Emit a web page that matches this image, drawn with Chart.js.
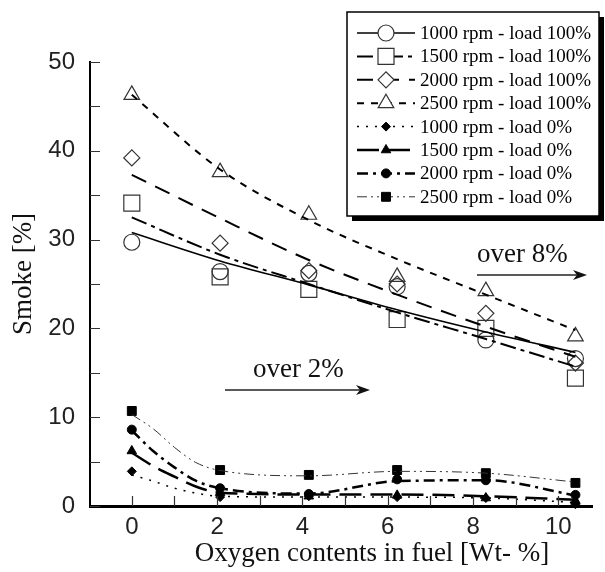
<!DOCTYPE html>
<html>
<head>
<meta charset="utf-8">
<script src="https://cdn.jsdelivr.net/npm/chart.js@4.4.0/dist/chart.umd.min.js"></script>
<style>
  html, body { margin: 0; padding: 0; background: #fff; }
  #wrap { width: 605px; height: 572px; }
</style>
</head>
<body>
<div id="wrap"><canvas id="smokeChart" width="605" height="572"></canvas></div>
<script>
// oxygen content of the blended fuel [wt-%]
var oxygen = [0, 2.07, 4.15, 6.22, 8.3, 10.4];

// measured smoke, full load
var smoke1000Full = [29.7, 26.4, 26.2, 24.7, 18.7, 16.6];
var smoke1500Full = [34.1, 25.8, 24.4, 21.0, 20.0, 14.4];
var smoke2000Full = [39.2, 29.6, 26.5, 25.0, 21.7, 16.1];
var smoke2500Full = [46.3, 37.6, 32.8, 25.8, 24.2, 19.1];

// measured smoke, no load
var smoke1000Zero = [3.9, 1.0, 1.1, 1.0, 0.9, 0.2];
var smoke1500Zero = [6.2, 1.5, 1.1, 1.2, 0.9, 0.6];
var smoke2000Zero = [8.6, 2.0, 1.35, 3.0, 2.9, 1.25];
var smoke2500Zero = [10.7, 4.05, 3.5, 4.05, 3.7, 2.6];

// trend curves, full load
var fit1000Full = [30.8, 27.6, 24.9, 22.1, 19.6, 17.3];
var fit1500Full = [32.5, 28.3, 25.0, 21.8, 18.8, 15.7];
var fit2000Full = [37.3, 32.4, 27.7, 23.8, 20.2, 16.8];
var fit2500Full = [46.3, 37.9, 32.2, 27.8, 23.8, 19.8];

// trend curves, no load (steep drop below 2 %, so read more finely there)
var fitOxygenZero = [0, 0.5, 1.0, 1.5, 2.07, 4.15, 6.22, 8.3, 10.4];
var fit1000Zero = [3.5, 2.8, 2.0, 1.45, 1.1, 1.0, 1.0, 0.9, 0.4];
var fit1500Zero = [6.0, 4.5, 3.3, 2.2, 1.5, 1.3, 1.3, 1.1, 0.7];
var fit2000Zero = [8.5, 6.2, 4.35, 2.85, 2.0, 1.4, 2.8, 2.9, 1.2];
var fit2500Zero = [10.3, 8.7, 6.6, 4.9, 4.0, 3.4, 3.9, 3.7, 2.7];

var xTickLabels = [0, 2, 4, 6, 8, 10];
var yTickLabels = [0, 10, 20, 30, 40, 50];

function pts(xs, ys) {
  return xs.map(function (x, i) { return { x: x, y: ys[i] }; });
}

var series = [
  { label: '1000 rpm - load 100%', xs: oxygen, ys: smoke1000Full, fxs: oxygen, fys: fit1000Full,
    shape: 'circle', r: 8, filled: false, dash: [], lw: 1.6, color: '#000' },
  { label: '1500 rpm - load 100%', xs: oxygen, ys: smoke1500Full, fxs: oxygen, fys: fit1500Full,
    shape: 'rect', r: 11.3, filled: false, dash: [16, 5, 4, 5], lw: 2, color: '#000' },
  { label: '2000 rpm - load 100%', xs: oxygen, ys: smoke2000Full, fxs: oxygen, fys: fit2000Full,
    shape: 'rectRot', r: 8, filled: false, dash: [16, 10], lw: 2, color: '#000' },
  { label: '2500 rpm - load 100%', xs: oxygen, ys: smoke2500Full, fxs: oxygen, fys: fit2500Full,
    shape: 'triangle', r: 9, filled: false, dash: [7, 7], lw: 2, color: '#000' },
  { label: '1000 rpm - load 0%', xs: oxygen, ys: smoke1000Zero, fxs: fitOxygenZero, fys: fit1000Zero,
    shape: 'rectRot', r: 4.5, filled: true, dash: [2, 7], lw: 1.5, color: '#000' },
  { label: '1500 rpm - load 0%', xs: oxygen, ys: smoke1500Zero, fxs: fitOxygenZero, fys: fit1500Zero,
    shape: 'triangle', r: 5.5, filled: true, dash: [22, 9], lw: 2.5, color: '#000' },
  { label: '2000 rpm - load 0%', xs: oxygen, ys: smoke2000Zero, fxs: fitOxygenZero, fys: fit2000Zero,
    shape: 'circle', r: 4.5, filled: true, dash: [11, 5, 3, 5], lw: 2.5, color: '#000' },
  { label: '2500 rpm - load 0%', xs: oxygen, ys: smoke2500Zero, fxs: fitOxygenZero, fys: fit2500Zero,
    shape: 'rect', r: 6.3, filled: true, dash: [10, 4, 2, 4, 2, 4], lw: 1, color: '#333' }
];

var datasets = [];
series.forEach(function (s) {
  datasets.push({
    label: s.label + ' trend',
    data: pts(s.fxs, s.fys),
    showLine: true,
    fill: false,
    pointRadius: 0,
    pointHoverRadius: 0,
    borderColor: s.color,
    borderWidth: s.lw,
    borderDash: s.dash,
    cubicInterpolationMode: 'monotone',
    clip: 12
  });
});
series.forEach(function (s) {
  datasets.push({
    label: s.label,
    data: pts(s.xs, s.ys),
    showLine: false,
    pointStyle: s.shape,
    pointRadius: s.r,
    pointHoverRadius: s.r,
    pointBorderWidth: s.filled ? 1 : 1.2,
    pointBorderColor: s.filled ? '#000' : '#333',
    pointBackgroundColor: s.filled ? '#000' : 'rgba(0,0,0,0)',
    clip: 12
  });
});

function markerAt(ctx, s, x, y, legendFill) {
  ctx.save();
  ctx.setLineDash([]);
  ctx.lineWidth = s.filled ? 1 : 1.2;
  ctx.strokeStyle = s.filled ? '#000' : '#333';
  ctx.fillStyle = s.filled ? '#000' : legendFill;
  Chart.helpers.drawPoint(ctx, { pointStyle: s.shape, radius: s.r, borderWidth: ctx.lineWidth, rotation: 0 }, x, y);
  ctx.restore();
}

function arrow(ctx, x1, x2, y) {
  ctx.save();
  ctx.strokeStyle = '#222';
  ctx.fillStyle = '#111';
  ctx.lineWidth = 1.4;
  ctx.beginPath();
  ctx.moveTo(x1, y);
  ctx.lineTo(x2 - 6, y);
  ctx.stroke();
  ctx.beginPath();
  ctx.moveTo(x2, y);
  ctx.lineTo(x2 - 14, y - 5);
  ctx.lineTo(x2 - 10, y);
  ctx.lineTo(x2 - 14, y + 5);
  ctx.closePath();
  ctx.fill();
  ctx.restore();
}

var decor = {
  id: 'decor',
  afterDraw: function (chart) {
    var ctx = chart.ctx;
    var xs = chart.scales.x, ys = chart.scales.y;
    var area = chart.chartArea;

    // inward tick marks
    ctx.save();
    ctx.strokeStyle = '#333';
    ctx.lineWidth = 1.2;
    ctx.beginPath();
    xs.ticks.forEach(function (t) {
      var px = Math.round(xs.getPixelForValue(t.value)) + 0.5;
      ctx.moveTo(px, area.bottom);
      ctx.lineTo(px, area.bottom - 10);
    });
    ys.ticks.forEach(function (t) {
      var py = Math.round(ys.getPixelForValue(t.value)) + 0.5;
      ctx.moveTo(area.left, py);
      ctx.lineTo(area.left + 10, py);
    });
    ctx.stroke();
    ctx.restore();

    // axis titles
    ctx.save();
    ctx.fillStyle = '#111';
    ctx.font = '27px "Liberation Serif", "Times New Roman", serif';
    ctx.textAlign = 'center';
    ctx.textBaseline = 'alphabetic';
    ctx.fillText('Oxygen contents in fuel [Wt- %]', 372, 561);
    ctx.translate(31, 274);
    ctx.rotate(-Math.PI / 2);
    ctx.fillText('Smoke [%]', 0, 0);
    ctx.restore();

    // oxygen range notes
    ctx.save();
    ctx.fillStyle = '#111';
    ctx.font = '27px "Liberation Serif", "Times New Roman", serif';
    ctx.textAlign = 'left';
    ctx.textBaseline = 'alphabetic';
    ctx.fillText('over 8%', 477, 262);
    ctx.fillText('over 2%', 253, 377);
    ctx.restore();
    arrow(ctx, 477, 587, 275);
    arrow(ctx, 225, 370, 390);

    // key box with drop shadow
    var left = 347, top = 12, w = 252, h = 204;
    ctx.save();
    ctx.fillStyle = '#000';
    ctx.fillRect(left + 5, top + 5, w, h);
    ctx.fillStyle = '#fff';
    ctx.fillRect(left, top, w, h);
    ctx.lineWidth = 1.5;
    ctx.strokeStyle = '#000';
    ctx.strokeRect(left, top, w, h);
    ctx.font = '19px "Liberation Serif", "Times New Roman", serif';
    ctx.textAlign = 'left';
    ctx.textBaseline = 'middle';
    series.forEach(function (s, i) {
      var y = 33 + i * 23.4;
      ctx.save();
      ctx.strokeStyle = s.color;
      ctx.lineWidth = s.lw;
      ctx.setLineDash(s.dash);
      ctx.beginPath();
      ctx.moveTo(357, y);
      ctx.lineTo(415, y);
      ctx.stroke();
      ctx.restore();
      markerAt(ctx, s, 386, y, '#fff');
      ctx.fillStyle = '#000';
      ctx.fillText(s.label, 420, y + 1);
    });
    ctx.restore();
  }
};

var smokeChart = new Chart(document.getElementById('smokeChart').getContext('2d'), {
  type: 'scatter',
  data: { datasets: datasets },
  plugins: [decor],
  options: {
    responsive: false,
    animation: false,
    events: [],
    layout: { padding: { top: 62, right: 0, bottom: 0, left: 0 } },
    plugins: {
      legend: { display: false },
      tooltip: { enabled: false }
    },
    scales: {
      x: {
        type: 'linear',
        min: -0.98,
        max: 10.8,
        afterFit: function (scale) { scale.height = 66; },
        grid: { display: true, drawOnChartArea: false, drawTicks: false },
        border: { display: true, color: '#000', width: 3 },
        ticks: {
          stepSize: 1,
          includeBounds: false,
          padding: 7,
          color: '#222',
          font: { family: '"Liberation Sans", Arial, sans-serif', size: 24 },
          callback: function (v) {
            var n = Math.round(v);
            return xTickLabels.indexOf(n) >= 0 && Math.abs(v - n) < 1e-6 ? String(n) : '';
          }
        }
      },
      y: {
        type: 'linear',
        min: 0,
        max: 50,
        afterFit: function (scale) { scale.width = 90; },
        grid: { display: true, drawOnChartArea: false, drawTicks: false },
        border: { display: true, color: '#000', width: 2 },
        ticks: {
          stepSize: 5,
          padding: 15,
          color: '#222',
          font: { family: '"Liberation Sans", Arial, sans-serif', size: 24 },
          callback: function (v) {
            return yTickLabels.indexOf(v) >= 0 ? String(v) : '';
          }
        }
      }
    }
  }
});
</script>
</body>
</html>
